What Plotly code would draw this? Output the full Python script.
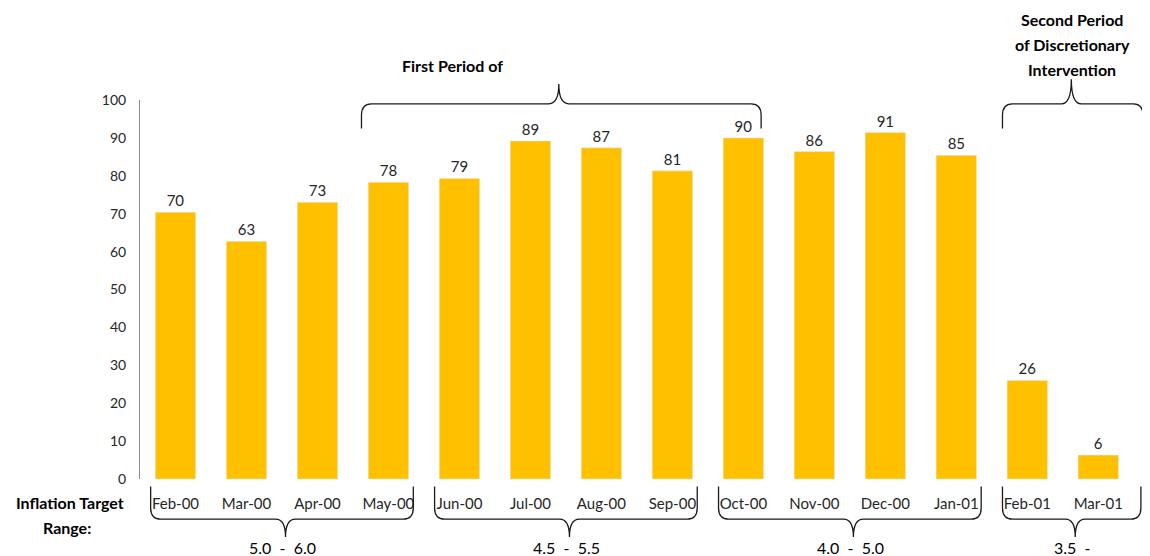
import plotly.graph_objects as go

# monthly values
months = ["Feb-00", "Mar-00", "Apr-00", "May-00", "Jun-00", "Jul-00", "Aug-00",
          "Sep-00", "Oct-00", "Nov-00", "Dec-00", "Jan-01", "Feb-01", "Mar-01"]
values = [70.4, 62.7, 73.0, 78.3, 79.3, 89.2, 87.4, 81.3, 90.0, 86.4, 91.4, 85.4, 26.0, 6.3]

# inflation target range groups: (first index, last index, label)
target_groups = [(0, 3, "5.0  -  6.0"), (4, 7, "4.5  -  5.5"),
                 (8, 11, "4.0  -  5.0"), (12, 13, "3.5  -")]

FONT = "Lato"
BRACE = dict(color="#1a1a1a", width=1.3)

xs = list(range(len(months)))

fig = go.Figure()
fig.add_trace(go.Bar(
    x=xs, y=values,
    marker_color="#FFC000",
    width=0.57,
    text=values,
    texttemplate="%{y:.0f}",
    textposition="outside",
    textfont=dict(size=15, color="#262626", family=FONT),
    cliponaxis=False,
))


def brace_down(x0, x1, xc, ytop, yh, ytip, dx=0.14, ry=0.03):
    # brace under the labels, tip pointing down
    return (f"M {x0},{ytop} L {x0},{yh + ry} Q {x0},{yh} {x0 + dx},{yh} "
            f"L {xc - dx},{yh} Q {xc},{yh} {xc},{ytip} "
            f"Q {xc},{yh} {xc + dx},{yh} L {x1 - dx},{yh} "
            f"Q {x1},{yh} {x1},{yh + ry} L {x1},{ytop}")


def brace_up(x0, x1, xc, ybot, yh, ytip, dx=0.14, ry=0.03):
    # brace above the bars, tip pointing up
    return (f"M {x0},{ybot} L {x0},{yh - ry} Q {x0},{yh} {x0 + dx},{yh} "
            f"L {xc - dx},{yh} Q {xc},{yh} {xc},{ytip} "
            f"Q {xc},{yh} {xc + dx},{yh} L {x1 - dx},{yh} "
            f"Q {x1},{yh} {x1},{yh - ry} L {x1},{ybot}")


def note(x, y, text, xref="x", bold=False, size=15):
    fig.add_annotation(x=x, y=y, xref=xref, yref="paper",
                       text=f"<b>{text}</b>" if bold else text,
                       xanchor="center", yanchor="middle", showarrow=False,
                       font=dict(size=size, color="#000", family=FONT))


# bottom braces + range labels
for i0, i1, lab in target_groups:
    x0 = i0 - 0.35
    x1 = i1 + 0.35 if i1 < len(months) - 1 else i1 + 0.6
    xc = (x0 + x1) / 2 + 0.05
    fig.add_shape(type="path", xref="x", yref="paper", line=BRACE,
                  path=brace_down(x0, x1, xc, -0.02, -0.106, -0.153))
    note(xc - 0.04, -0.18, lab, size=16)

# top braces
fig.add_shape(type="path", xref="x", yref="paper", line=BRACE,
              path=brace_up(2.62, 8.25, 5.4, 0.925, 0.99, 1.042))
fig.add_shape(type="path", xref="x", yref="paper", line=BRACE,
              path=brace_up(11.65, 13.63, 12.62, 0.925, 0.99, 1.055))

note(3.9, 1.09, "First Period of", bold=True, size=16)
note(12.63, 1.213, "Second Period", bold=True, size=16)
note(12.63, 1.147, "of Discretionary", bold=True, size=16)
note(12.63, 1.08, "Intervention", bold=True, size=16)
note(-0.069, -0.063, "Inflation Target", xref="paper", bold=True, size=16)
note(-0.072, -0.129, "Range:", xref="paper", bold=True, size=16)

# the page body has an 8px margin, so the figure is 8px smaller than the window
fig.update_layout(
    width=1142, height=548,
    margin=dict(l=131.5, r=2.3, t=92, b=77),
    plot_bgcolor="white", paper_bgcolor="white",
    showlegend=False,
    font=dict(family=FONT, size=14, color="#262626"),
    xaxis=dict(range=[-0.5, 13.7], tickmode="array", tickvals=xs, ticktext=months,
               showgrid=False, zeroline=False, showline=False, ticks="",
               ticklabelstandoff=14, tickfont=dict(size=15)),
    yaxis=dict(range=[0, 100], dtick=10, showgrid=False, zeroline=False,
               showline=True, linecolor="#8c8c8c", linewidth=1, ticks="",
               ticklabelstandoff=10, tickfont=dict(size=14)),
)

fig.write_html("out.html")
